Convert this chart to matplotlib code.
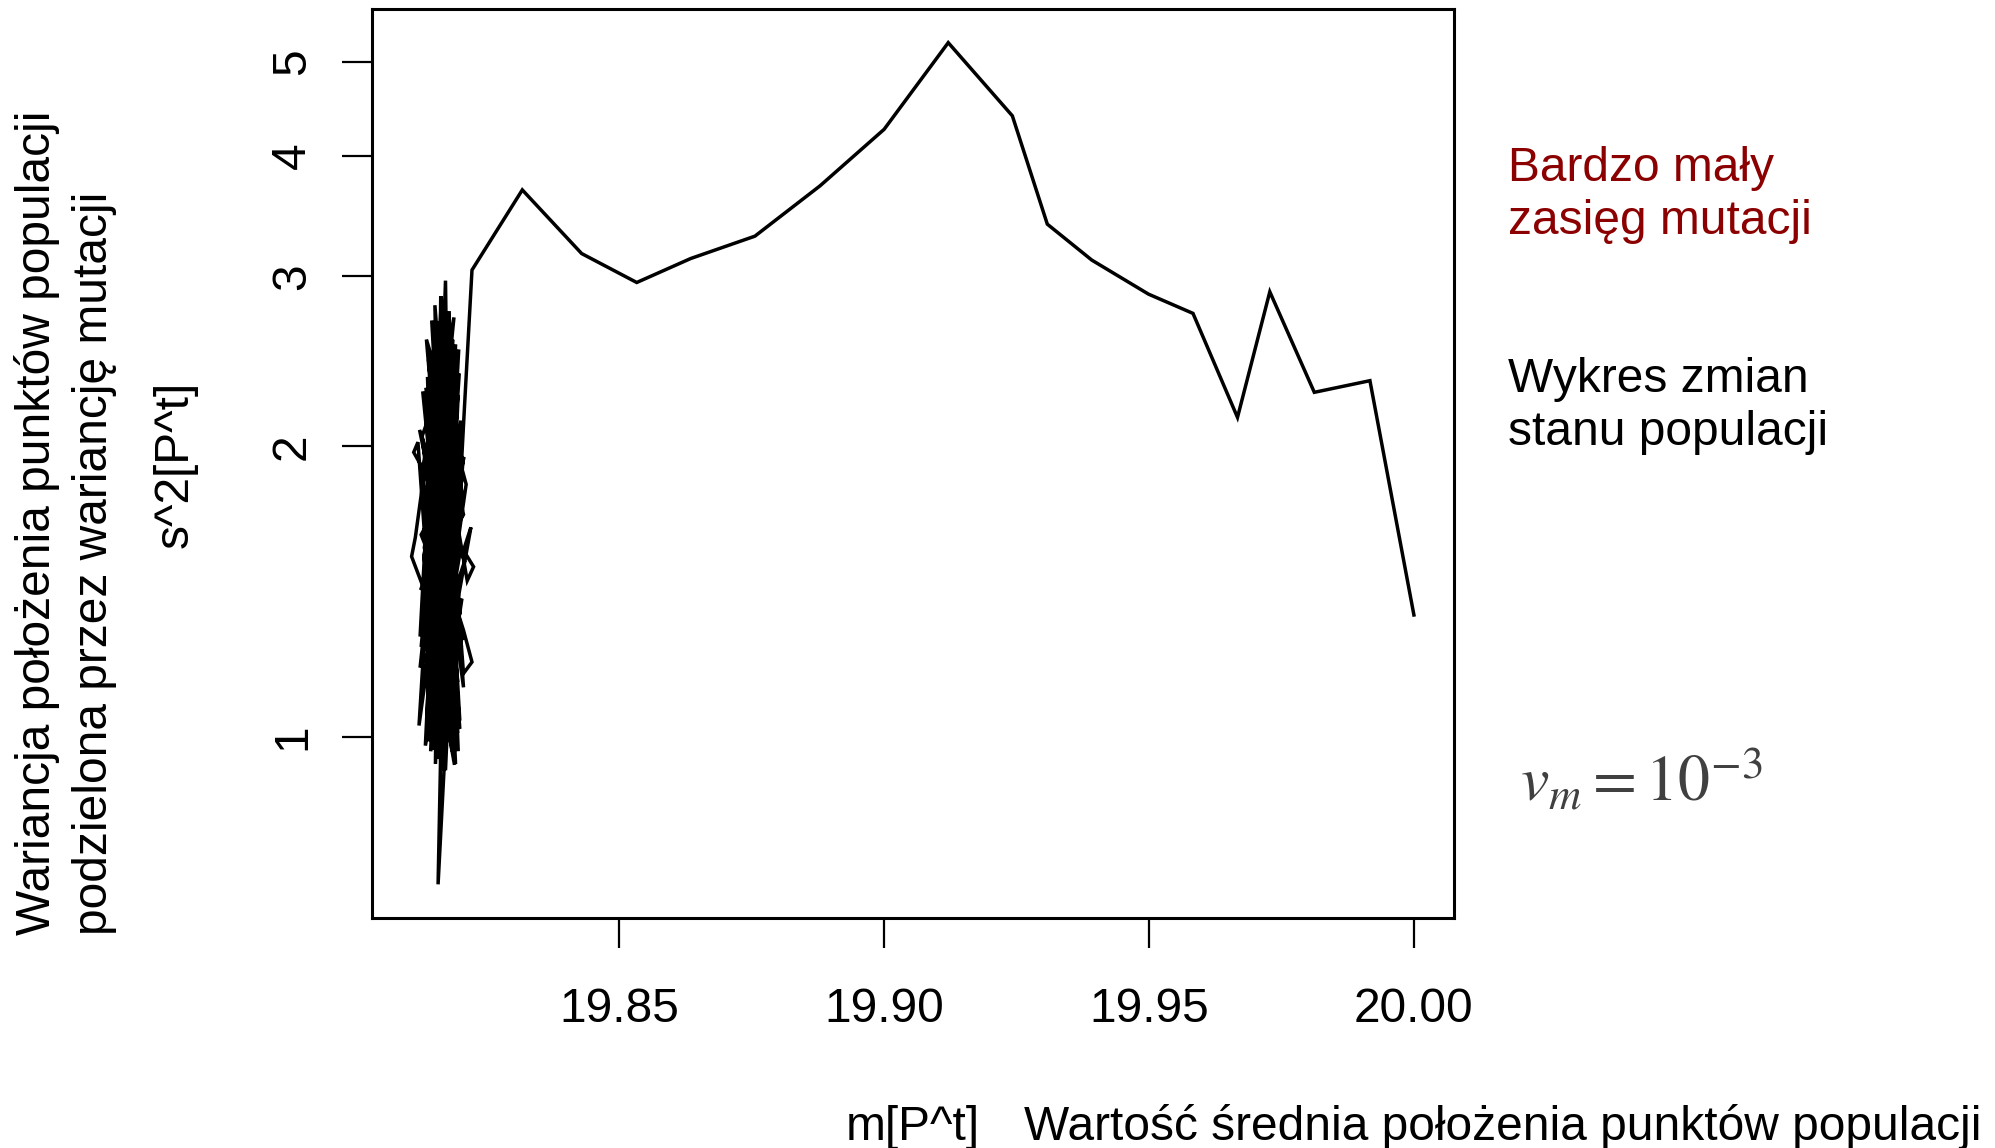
import numpy as np
import matplotlib
matplotlib.use("Agg")
import matplotlib.pyplot as plt
from matplotlib.ticker import FixedLocator, FixedFormatter, NullLocator

plt.rcParams['font.family'] = ['Liberation Sans', 'DejaVu Sans']
plt.rcParams['mathtext.fontset'] = 'stix'

# trajectory of the population state: mean position vs scaled variance
# first the long drift from 20.0 to the left ...
mean_drift = [20.0000, 19.9917, 19.9812, 19.9728, 19.9667, 19.9583, 19.9499,
              19.9392, 19.9308, 19.9242, 19.9121, 19.9000, 19.8879, 19.8756,
              19.8635, 19.8533, 19.8429, 19.8317, 19.8222]
var_drift = [1.338, 2.339, 2.275, 2.891, 2.143, 2.746, 2.875,
             3.118, 3.397, 4.398, 5.236, 4.259, 3.722, 3.301,
             3.130, 2.956, 3.167, 3.686, 3.045]

# ... then the population wandering around the optimum
mean_settled = [19.8208, 19.8177, 19.8148, 19.8196, 19.8163, 19.8153, 19.8187,
                19.8139, 19.8201, 19.8158, 19.8172, 19.8132, 19.8191, 19.8167,
                19.8148, 19.8211, 19.8144, 19.8172, 19.8184, 19.8136, 19.8206,
                19.8156, 19.8124, 19.8196, 19.8163, 19.8120, 19.8112, 19.8124,
                19.8189, 19.8179, 19.8144, 19.8220, 19.8206, 19.8225, 19.8213,
                19.8148, 19.8189, 19.8129, 19.8108, 19.8115, 19.8167, 19.8122,
                19.8201, 19.8172, 19.8134, 19.8206, 19.8222, 19.8206, 19.8160,
                19.8199, 19.8139, 19.8191, 19.8153, 19.8129, 19.8203, 19.8165,
                19.8144, 19.8184, 19.8132, 19.8177, 19.8153, 19.8167,
                19.8141, 19.8183, 19.8130, 19.8198, 19.8150, 19.8175, 19.8135,
                19.8204, 19.8146, 19.8190, 19.8128, 19.8181, 19.8160, 19.8138,
                19.8202, 19.8152, 19.8170, 19.8133, 19.8193, 19.8145, 19.8186,
                19.8131, 19.8176, 19.8157, 19.8200, 19.8140, 19.8168, 19.8127,
                19.8195, 19.8149, 19.8182, 19.8136, 19.8205, 19.8159, 19.8142,
                19.8188, 19.8126, 19.8174, 19.8197, 19.8137, 19.8164, 19.8185,
                19.8129, 19.8178, 19.8154, 19.8203, 19.8143, 19.8171, 19.8134,
                19.8192, 19.8161, 19.8139, 19.8199, 19.8151, 19.8180, 19.8131,
                19.8166, 19.8194, 19.8147, 19.8173,
                19.8124, 19.8207, 19.8126, 19.8205, 19.8123, 19.8208, 19.8127,
                19.8204, 19.8125, 19.8206, 19.8140, 19.8195, 19.8135, 19.8200,
                19.8150, 19.8185, 19.8142, 19.8190]
var_settled = [2.206, 1.059, 2.401, 0.967, 2.862, 0.938, 2.330,
               1.059, 2.001, 0.704, 1.720, 1.126, 2.551, 0.924,
               2.453, 1.827, 1.012, 2.969, 0.967, 2.193, 1.126,
               2.694, 1.271, 2.261, 0.944, 2.020, 1.972, 1.919,
               1.059, 2.761, 0.967, 1.649, 1.561, 1.501, 1.452,
               2.330, 0.936, 1.434, 1.538, 1.609, 2.590, 1.028,
               2.127, 0.924, 1.720, 1.290, 1.196, 1.164, 2.475,
               1.040, 2.001, 0.938, 2.551, 1.196, 1.391, 1.012,
               2.127, 1.126, 1.571, 2.330, 1.043, 1.619,
               2.52, 1.08, 1.84, 2.38, 0.97, 2.64, 1.15,
               1.78, 2.70, 1.00, 2.05, 2.48, 1.02, 2.36,
               1.24, 2.80, 0.96, 1.68, 2.15, 1.10, 2.58,
               1.36, 1.05, 2.66, 1.56, 0.99, 2.42, 1.88,
               1.01, 2.22, 1.30, 2.58, 1.93, 0.95, 1.96,
               2.72, 1.24, 1.48, 2.52, 1.04, 2.86, 1.12,
               2.28, 1.74, 1.00, 2.04, 1.40, 2.60, 0.98,
               1.46, 2.36, 1.20, 1.02, 2.50, 0.99, 1.54,
               1.90, 2.28, 1.06, 2.12,
               1.18, 1.95, 1.62, 1.26, 2.08, 1.52, 1.12,
               1.86, 1.42, 1.70, 2.46, 1.14, 2.30, 1.34,
               2.56, 1.08, 2.40, 1.66]

x_ticks = [19.85, 19.90, 19.95, 20.00]
x_tick_labels = ["19.85", "19.90", "19.95", "20.00"]
y_ticks = [1, 2, 3, 4, 5]
y_tick_labels = ["1", "2", "3", "4", "5"]

W, H = 1995, 1148
FS = 34.5


def fpos(x, y):
    return x / W, 1 - y / H


fig = plt.figure(figsize=(W / 100, H / 100), dpi=100)
ax = fig.add_axes([371.5 / W, (H - 918) / H, (1454 - 371.5) / W, (918 - 9) / H])

m = np.concatenate([mean_drift, mean_settled])
s2 = np.concatenate([var_drift, var_settled])
ax.plot(m, s2, color="black", lw=2.5, solid_joinstyle="miter")

ax.set_yscale("log")
ax.margins(x=0.04, y=0.04)

ax.xaxis.set_major_locator(FixedLocator(x_ticks))
ax.xaxis.set_major_formatter(FixedFormatter(x_tick_labels))
ax.yaxis.set_major_locator(FixedLocator(y_ticks))
ax.yaxis.set_major_formatter(FixedFormatter(y_tick_labels))
ax.xaxis.set_minor_locator(NullLocator())
ax.yaxis.set_minor_locator(NullLocator())

for sp in ax.spines.values():
    sp.set_linewidth(2.2)
ax.tick_params(axis="both", length=21.6, width=1.6, labelsize=FS)
ax.tick_params(axis="x", pad=28)
ax.tick_params(axis="y", pad=19)
for lab in ax.get_yticklabels():
    lab.set_rotation(90)
    lab.set_va("center")

# axis captions
fig.text(*fpos(913, 1140), "m[P^t]", fontsize=FS, ha="center", va="baseline")
fig.text(*fpos(1024, 1140), "Wartość średnia położenia punktów populacji",
         fontsize=FS, ha="left", va="baseline")
fig.text(*fpos(188, 464), "s^2[P^t]", fontsize=FS, rotation=90,
         rotation_mode="anchor", ha="center", va="baseline")
fig.text(*fpos(50, 935), "Wariancja położenia punktów populacji", fontsize=FS,
         rotation=90, rotation_mode="anchor", ha="left", va="baseline")
fig.text(*fpos(107, 935), "podzielona przez wariancję mutacji", fontsize=FS,
         rotation=90, rotation_mode="anchor", ha="left", va="baseline")

# notes on the right
fig.text(*fpos(1508, 181), "Bardzo mały", fontsize=FS, color="#8B0000", va="baseline")
fig.text(*fpos(1508, 234), "zasięg mutacji", fontsize=FS, color="#8B0000", va="baseline")
fig.text(*fpos(1508, 392), "Wykres zmian", fontsize=FS, va="baseline")
fig.text(*fpos(1508, 445), "stanu populacji", fontsize=FS, va="baseline")
fig.text(*fpos(1520, 801), r"$v_m{=}10^{-3}$", fontsize=46, color="#404040",
         va="baseline")

fig.savefig("out.png", dpi=100, facecolor="white")
